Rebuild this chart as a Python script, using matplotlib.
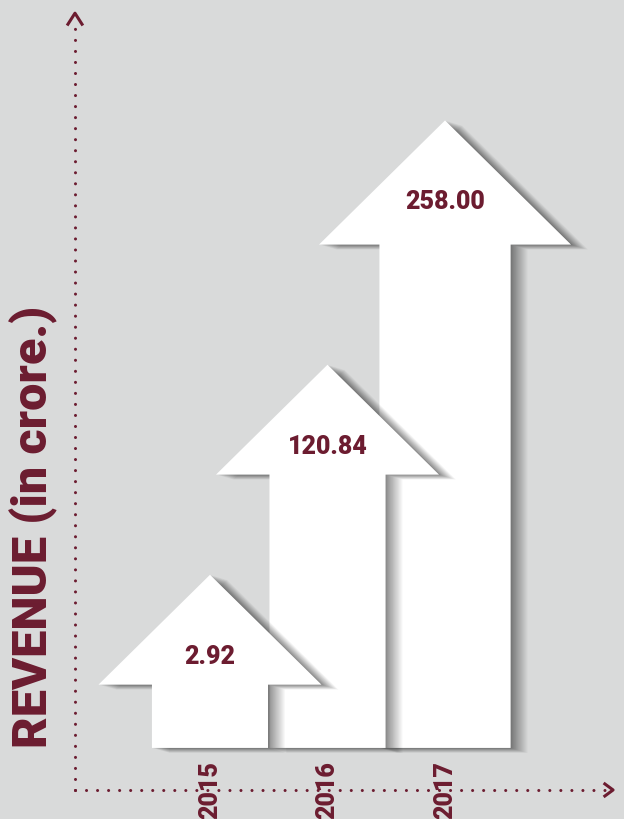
import numpy as np
import matplotlib
matplotlib.use("Agg")
import matplotlib.pyplot as plt
from matplotlib.patches import Polygon
from matplotlib.transforms import ScaledTranslation

years = ["2015", "2016", "2017"]
revenue = [2.92, 120.84, 258.00]
value_labels = ["2.92", "120.84", "258.00"]
axis_title = "REVENUE (in crore.)"

BG = "#d9dada"
MAROON = "#6c1c30"
FONT = ["Roboto", "Liberation Sans", "DejaVu Sans"]

fig = plt.figure(figsize=(6.24, 8.19), dpi=100, facecolor=BG)
ax = fig.add_axes([0, 0, 1, 1])
ax.set_facecolor(BG)
ax.set_xlim(-1.787, 3.523)
ax.set_ylim(-134.2, 325.6)
ax.axis("off")

base = -94.3       # bottom edge of the arrows
axis_y = -117.9    # where the dotted x axis runs
axis_x = -1.149    # where the dotted y axis runs


def arrow_shape(x, top, scale):
    shaft = 0.494 * scale
    head = 0.949 * scale
    head_h = 61.7 * scale
    neck = top - head_h
    return [(x - shaft, base), (x + shaft, base), (x + shaft, neck),
            (x + head, neck), (x, top), (x - head, neck),
            (x - shaft, neck)]


scales = [1.0, 1.0, 1.13]
xs = np.arange(len(years))

# back to front so each arrow throws its shadow onto the one behind it
for i in reversed(range(len(years))):
    pts = arrow_shape(xs[i], revenue[i], scales[i])
    z = 3 * (2 - i)
    # soft drop shadow: stacked, faint, progressively shifted copies
    for t in np.linspace(0.1, 1.0, 20) ** 1.3:
        off = ScaledTranslation(0.17 * t, -0.05 * t, fig.dpi_scale_trans)
        sh = Polygon(pts, closed=True, facecolor="black", edgecolor="none",
                     alpha=0.028, transform=ax.transData + off, zorder=2 + z)
        ax.add_patch(sh)
    ax.add_patch(Polygon(pts, closed=True, facecolor="white", edgecolor="none",
                         zorder=3 + z))
    ax.text(xs[i], revenue[i] - 46, value_labels[i], color=MAROON, fontsize=18,
            fontweight="black", family=FONT, ha="center", va="center",
            zorder=4 + z)

# dotted axes with open chevron heads
dot = dict(color=MAROON, lw=2.2, linestyle=(0, (0.01, 3.6)),
           dash_capstyle="round", zorder=20)
ax.plot([axis_x, axis_x], [axis_y, 311.0], **dot)
ax.plot([axis_x, 3.39], [axis_y, axis_y], **dot)
ax.plot([axis_x - 0.06, axis_x, axis_x + 0.06], [312.0, 318.2, 312.0],
        color=MAROON, lw=2.2, zorder=20)
ax.plot([3.36, 3.43, 3.36], [axis_y + 3.4, axis_y, axis_y - 3.4],
        color=MAROON, lw=2.2, zorder=20)

for i, yr in enumerate(years):
    ax.text(xs[i], axis_y, yr, rotation=90, color=MAROON, fontsize=18,
            fontweight="black", family=FONT, ha="center", va="center", zorder=21)

ax.text(-1.50, 29.7, axis_title, rotation=90, color=MAROON, fontsize=35,
        fontweight="black", family=FONT, ha="center", va="center", zorder=21)

fig.savefig("out.png", dpi=100, facecolor=BG)
